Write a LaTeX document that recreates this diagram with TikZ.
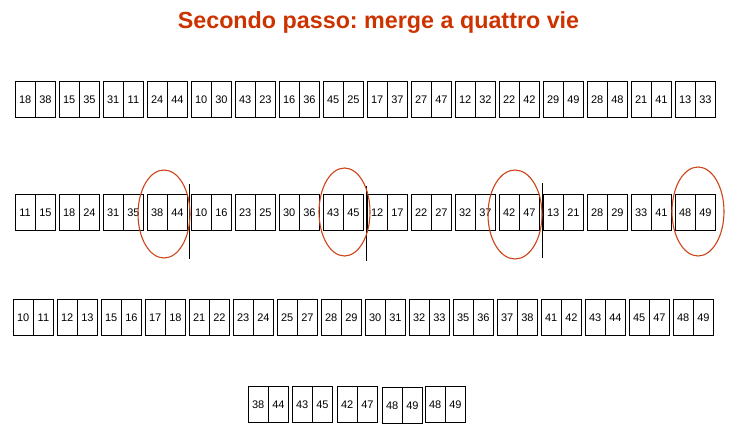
\documentclass[tikz,border=0pt]{standalone}
\usepackage{fontspec}
\setmainfont{Liberation Sans}
\frenchspacing
\definecolor{titlecol}{RGB}{204,51,0}
\definecolor{ringcol}{RGB}{204,68,24}
\tikzset{
  cell/.style={draw=black, line width=0.8pt, minimum width=19.5pt, minimum height=36pt,
    inner sep=0pt, anchor=north west, font=\fontsize{11}{13}\selectfont},
  ring/.style={draw=ringcol, line width=1.1pt},
  sepline/.style={draw=black, line width=0.9pt}
}
\begin{document}
\begin{tikzpicture}[x=1pt,y=-1pt]
\useasboundingbox (0,0) rectangle (737,425);
\node[font=\bfseries\fontsize{23.3}{27}\selectfont, text=titlecol, anchor=base] (title) at (378.5,28.5) {Secondo passo: merge a quattro vie};
% row 1
\foreach \a/\b [count=\i] in {18/38,15/35,31/11,24/44,10/30,43/23,16/36,45/25,17/37,27/47,12/32,22/42,29/49,28/48,21/41,13/33}{
  \node[cell] (ra\i) at ({15+44*(\i-1)},81) {\a};
  \node[cell] (rb\i) at (ra\i.north east) {\b};
}
% row 2
\foreach \a/\b [count=\i] in {11/15,18/24,31/35,38/44,10/16,23/25,30/36,43/45,12/17,22/27,32/37,42/47,13/21,28/29,33/41,48/49}{
  \node[cell] (sa\i) at ({15+44*(\i-1)},194) {\a};
  \node[cell] (sb\i) at (sa\i.north east) {\b};
}
% row 3
\foreach \a/\b [count=\i] in {10/11,12/13,15/16,17/18,21/22,23/24,25/27,28/29,30/31,32/33,35/36,37/38,41/42,43/44,45/47,48/49}{
  \node[cell] (ta\i) at ({13+44*(\i-1)},299) {\a};
  \node[cell] (tb\i) at (ta\i.north east) {\b};
}
% row 4
\foreach \a/\b/\x/\y [count=\i] in {38/44/248/386,43/45/292/386,42/47/337/386,48/49/382/387,48/49/425/386}{
  \node[cell] (ua\i) at (\x,\y) {\a};
  \node[cell] (ub\i) at (ua\i.north east) {\b};
}
% separators
\coordinate (s1t) at (189,184); \coordinate (s1b) at (189,259);
\coordinate (s2t) at (366,186); \coordinate (s2b) at (366,261);
\coordinate (s3t) at (542,183); \coordinate (s3b) at (542,258);
\draw[sepline] (s1t) -- (s1b);
\draw[sepline] (s2t) -- (s2b);
\draw[sepline] (s3t) -- (s3b);
% rings
\draw[ring] (164,214) ellipse [x radius=26pt, y radius=44pt];
\draw[ring] (344.5,212) ellipse [x radius=25.5pt, y radius=44pt];
\draw[ring] (515,214.5) ellipse [x radius=27pt, y radius=44.5pt];
\draw[ring] (698,211.5) ellipse [x radius=26pt, y radius=44.5pt];
\end{tikzpicture}
\end{document}
